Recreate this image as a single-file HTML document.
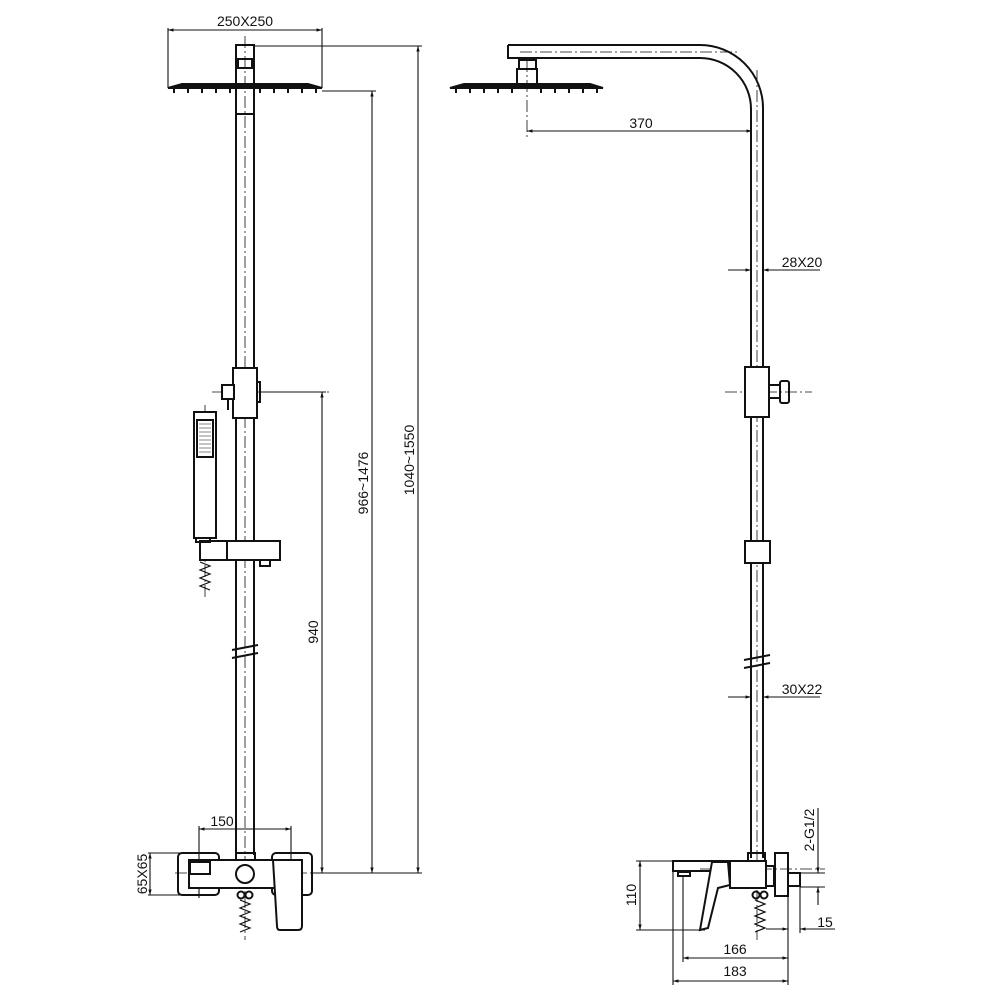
<!DOCTYPE html>
<html><head><meta charset="utf-8"><style>html,body{margin:0;padding:0;background:#fff}svg{display:block}text{font-family:"Liberation Sans",sans-serif;font-size:14px;fill:#111}</style></head><body>
<svg width="1000" height="1000" viewBox="0 0 1000 1000" xmlns="http://www.w3.org/2000/svg">
<defs><marker id="a" viewBox="0 0 10 10" refX="10" refY="5" markerWidth="8" markerHeight="5" orient="auto-start-reverse"><path d="M0,2 L10,5 L0,8 z" fill="#111"/></marker></defs>
<g stroke="#111" fill="none" stroke-width="1.1">
<line x1="168" y1="30" x2="322" y2="30" marker-start="url(#a)" marker-end="url(#a)"/>
<line x1="168" y1="28" x2="168" y2="88"/><line x1="322" y1="28" x2="322" y2="88"/>
<line x1="254" y1="46" x2="422" y2="46"/>
<line x1="418" y1="46" x2="418" y2="873" marker-start="url(#a)" marker-end="url(#a)"/>
<line x1="322" y1="91" x2="376" y2="91"/>
<line x1="372" y1="91" x2="372" y2="873" marker-start="url(#a)" marker-end="url(#a)"/>
<line x1="260" y1="392" x2="326" y2="392"/>
<line x1="322" y1="392" x2="322" y2="873" marker-start="url(#a)" marker-end="url(#a)"/>
<line x1="312" y1="873" x2="422" y2="873"/>
<line x1="199" y1="829" x2="291" y2="829" marker-start="url(#a)" marker-end="url(#a)"/>
<line x1="199" y1="826" x2="199" y2="898"/><line x1="291" y1="826" x2="291" y2="898"/>
<line x1="150" y1="853" x2="150" y2="895" marker-start="url(#a)" marker-end="url(#a)"/>
<line x1="148" y1="853" x2="180" y2="853"/><line x1="148" y1="895" x2="180" y2="895"/>
<g stroke-dasharray="12,3,2,3" stroke-width="0.8">
<line x1="245" y1="36" x2="245" y2="940"/>
<line x1="212" y1="392" x2="330" y2="392"/>
<line x1="205" y1="405" x2="205" y2="600"/>
<line x1="175" y1="873" x2="360" y2="873"/>
<line x1="757" y1="70" x2="757" y2="940"/>
<line x1="520" y1="52" x2="740" y2="52"/>
<line x1="527" y1="60" x2="527" y2="140"/>
<line x1="725" y1="392" x2="812" y2="392"/>
<line x1="700" y1="869" x2="825" y2="869"/>
</g>
<g stroke-width="2">
<rect x="236" y="45" width="18" height="43"/>
<rect x="238" y="59" width="14" height="9"/>
<path d="M168,88 L182,84 L308,84 L322,88 Z" fill="#111"/>
<line x1="236" y1="88" x2="236" y2="855"/><line x1="254" y1="88" x2="254" y2="855"/>
<line x1="236" y1="114" x2="254" y2="114"/>
<rect x="233" y="368" width="24" height="50" fill="#fff"/>
<rect x="222" y="385" width="12" height="14" fill="#fff"/>
<line x1="228" y1="399" x2="228" y2="410"/>
<rect x="257" y="382" width="3" height="20"/>
<rect x="194" y="412" width="22" height="126" fill="#fff"/>
<rect x="197" y="420" width="16" height="37"/>
<rect x="200" y="541" width="80" height="19" fill="#fff"/>
<line x1="227" y1="541" x2="227" y2="560"/>
<rect x="260" y="560" width="10" height="6"/>
<rect x="196" y="538" width="14" height="4"/>
<line x1="232" y1="650" x2="258" y2="645"/><line x1="232" y1="658" x2="258" y2="653"/>
<rect x="178" y="853" width="41" height="42" rx="4"/>
<rect x="272" y="853" width="40" height="42" rx="4"/>
<rect x="189" y="860" width="113" height="28" fill="#fff"/>
<rect x="190" y="862" width="20" height="12"/>
<rect x="236" y="853" width="19" height="7"/>
<circle cx="245" cy="874" r="9"/>
<path d="M273,860 L302,860 L302,926 Q302,930 298,930 L280,930 Q277,930 277,926 Z" fill="#fff"/>
<circle cx="241" cy="895" r="3.5"/><circle cx="249" cy="895" r="3.5"/>
</g>
<path d="M200,562 l10,4 l-10,4 l10,4 l-10,4 l10,4 l-10,4 l10,4" stroke-width="1.2"/>
<path d="M240,900 l10,4 l-10,4 l10,4 l-10,4 l10,4 l-10,4 l10,4 l-10,4" stroke-width="1.2"/>
<g stroke-width="0.6"><path d="M199,424h12M199,428h12M199,432h12M199,436h12M199,440h12M199,444h12M199,448h12M199,452h12"/></g>
<g stroke-width="2"><path d="M174,89v4M188,89v4M202,89v4M216,89v4M230,89v4M260,89v4M274,89v4M288,89v4M302,89v4M316,89v4"/></g>
<g stroke-width="2">
<path d="M508,45 L700,45 A63,63 0 0 1 763,108 L763,858"/>
<path d="M508,45 L508,58 L700,58 A51,51 0 0 1 751,109 L751,858"/>
<rect x="519" y="60" width="17" height="9"/>
<rect x="517" y="69" width="20" height="16"/>
<path d="M450,88 L464,84 L590,84 L603,88 Z" fill="#111"/>
<rect x="745" y="367" width="24" height="50" fill="#fff"/>
<rect x="769" y="385" width="11" height="13"/>
<rect x="780" y="381" width="9" height="22" rx="2"/>
<rect x="745" y="541" width="25" height="22" fill="#fff"/>
<line x1="744" y1="660" x2="770" y2="655"/><line x1="744" y1="668" x2="770" y2="663"/>
<rect x="748" y="853" width="17" height="8"/>
<rect x="673" y="861" width="93" height="10"/>
<rect x="730" y="861" width="36" height="27" fill="#fff"/>
<path d="M712,862 L728,862 L730,885 L718,888 L708,928 L700,930 Z" fill="#fff"/>
<rect x="678" y="872" width="12" height="4"/>
<rect x="766" y="866" width="8" height="20"/>
<rect x="775" y="853" width="13" height="43"/>
<rect x="788" y="873" width="12" height="13"/>
<circle cx="756" cy="895" r="3.5"/><circle cx="764" cy="895" r="3.5"/>
</g>
<path d="M755,900 l10,4 l-10,4 l10,4 l-10,4 l10,4 l-10,4 l10,4 l-10,4" stroke-width="1.2"/>
<g stroke-width="2"><path d="M456,89v4M470,89v4M484,89v4M498,89v4M512,89v4M541,89v4M555,89v4M569,89v4M583,89v4M597,89v4"/></g>
<line x1="527" y1="131" x2="752" y2="131" marker-start="url(#a)" marker-end="url(#a)"/>
<line x1="728" y1="270" x2="751" y2="270" marker-end="url(#a)"/>
<line x1="788" y1="270" x2="763" y2="270" marker-end="url(#a)"/>
<line x1="763" y1="270" x2="820" y2="270"/>
<line x1="728" y1="697" x2="751" y2="697" marker-end="url(#a)"/>
<line x1="788" y1="697" x2="763" y2="697" marker-end="url(#a)"/>
<line x1="763" y1="697" x2="820" y2="697"/>
<line x1="640" y1="861" x2="640" y2="930" marker-start="url(#a)" marker-end="url(#a)"/>
<line x1="636" y1="861" x2="673" y2="861"/><line x1="636" y1="930" x2="705" y2="930"/>
<line x1="673" y1="861" x2="673" y2="985"/>
<line x1="683" y1="875" x2="683" y2="962"/>
<line x1="788" y1="896" x2="788" y2="985"/>
<line x1="800" y1="886" x2="800" y2="933"/>
<line x1="683" y1="958" x2="788" y2="958" marker-start="url(#a)" marker-end="url(#a)"/>
<line x1="673" y1="981" x2="788" y2="981" marker-start="url(#a)" marker-end="url(#a)"/>
<line x1="766" y1="929" x2="788" y2="929" marker-end="url(#a)"/>
<line x1="835" y1="929" x2="800" y2="929" marker-end="url(#a)"/>
<line x1="800" y1="873" x2="825" y2="873"/><line x1="800" y1="887" x2="825" y2="887"/>
<line x1="818" y1="808" x2="818" y2="873" marker-end="url(#a)"/>
<line x1="818" y1="905" x2="818" y2="887" marker-end="url(#a)"/>
</g>
<text x="245" y="26" text-anchor="middle">250X250</text>
<text x="222" y="826" text-anchor="middle">150</text>
<text transform="translate(147,874) rotate(-90)" text-anchor="middle">65X65</text>
<text transform="translate(414,460) rotate(-90)" text-anchor="middle">1040~1550</text>
<text transform="translate(368,483) rotate(-90)" text-anchor="middle">966~1476</text>
<text transform="translate(318,632) rotate(-90)" text-anchor="middle">940</text>
<text x="641" y="128" text-anchor="middle">370</text>
<text x="802" y="267" text-anchor="middle">28X20</text>
<text x="802" y="694" text-anchor="middle">30X22</text>
<text transform="translate(636,895) rotate(-90)" text-anchor="middle">110</text>
<text x="735" y="954" text-anchor="middle">166</text>
<text x="735" y="976" text-anchor="middle">183</text>
<text x="825" y="927" text-anchor="middle">15</text>
<text transform="translate(814,830) rotate(-90)" text-anchor="middle">2-G1/2</text>
</svg>
</body></html>
